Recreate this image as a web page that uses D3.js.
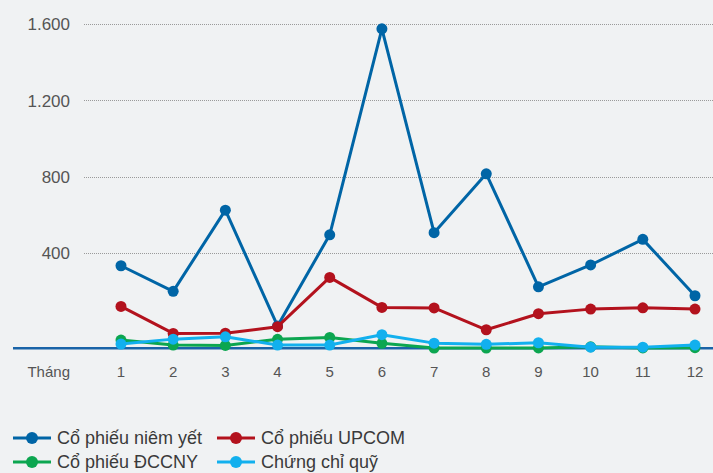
<!DOCTYPE html>
<html>
<head>
<meta charset="utf-8">
<script src="https://cdn.jsdelivr.net/npm/d3@7"></script>
<style>
  body { margin: 0; background: #f0f2f3; }
  svg { display: block; font-family: "Liberation Sans", Arial, sans-serif; }
</style>
</head>
<body>
<svg width="713" height="473"></svg>
<script>
var months = [1, 2, 3, 4, 5, 6, 7, 8, 9, 10, 11, 12];
var yTicks = [400, 800, 1200, 1600];
var seriesNames = ["Cổ phiếu niêm yết", "Cổ phiếu UPCOM", "Cổ phiếu ĐCCNY", "Chứng chỉ quỹ"];
var colors = ["#0065a6", "#b3121d", "#0ca650", "#12b0ee"];

var niemYet = [335, 201, 626, 20, 497, 1575, 508, 816, 225, 339, 473, 178];
var upcom = [122, -19, -18, 16, 274, 117, 114, 0, 84, 108, 115, 108];
var dccny = [-54, -80, -82, -50, -40, -71, -96, -96, -95, -89, -95, -94];
var quy = [-75, -49, -37, -80, -80, -26, -70, -76, -68, -91, -91, -80];
var series = [niemYet, upcom, dccny, quy];

var svg = d3.select("svg");

var x = d3.scalePoint().domain(months).range([121, 695]);
var y = d3.scaleLinear().domain([-97, 1600]).range([348.3, 24]);

// grid
svg.append("g").selectAll("line")
  .data(yTicks)
  .enter().append("line")
    .attr("x1", 84).attr("x2", 713)
    .attr("y1", function(d) { return Math.round(y(d)) + 0.5; })
    .attr("y2", function(d) { return Math.round(y(d)) + 0.5; })
    .attr("stroke", "#9a9a9a")
    .attr("stroke-width", 1)
    .attr("stroke-dasharray", "1,1");

svg.append("g").selectAll("text")
  .data(yTicks)
  .enter().append("text")
    .attr("x", 70)
    .attr("y", function(d) { return y(d); })
    .attr("dy", "0.36em")
    .attr("text-anchor", "end")
    .attr("fill", "#555")
    .style("font-size", "17px")
    .text(function(d) { return d3.format(",")(d).replace(",", "."); });

// x axis
svg.append("line")
  .attr("x1", 13).attr("x2", 713)
  .attr("y1", y(-97)).attr("y2", y(-97))
  .attr("stroke", "#1a64a8")
  .attr("stroke-width", 2.5);

var xa = svg.append("g").attr("transform", "translate(0,377)");
xa.append("text")
  .attr("x", 70).attr("text-anchor", "end")
  .attr("fill", "#555").style("font-size", "15px")
  .text("Tháng");
xa.selectAll("text.m")
  .data(months)
  .enter().append("text")
    .attr("class", "m")
    .attr("x", function(d) { return x(d); })
    .attr("text-anchor", "middle")
    .attr("fill", "#555").style("font-size", "15px")
    .text(function(d) { return d; });

// lines
var line = d3.line()
  .x(function(d, i) { return x(months[i]); })
  .y(function(d) { return y(d); });

series.forEach(function(s, k) {
  var g = svg.append("g");
  g.append("path")
    .datum(s)
    .attr("d", line)
    .attr("fill", "none")
    .attr("stroke", colors[k])
    .attr("stroke-width", 3)
    .attr("stroke-linejoin", "round");
  g.selectAll("circle")
    .data(s)
    .enter().append("circle")
      .attr("cx", function(d, i) { return x(months[i]); })
      .attr("cy", function(d) { return y(d); })
      .attr("r", 5.5)
      .attr("fill", colors[k]);
});

// legend
var legPos = [[13, 438], [217, 438], [13, 462], [217, 462]];
var leg = svg.append("g").selectAll("g")
  .data(seriesNames)
  .enter().append("g")
    .attr("transform", function(d, i) { return "translate(" + legPos[i][0] + "," + legPos[i][1] + ")"; });
leg.append("line")
  .attr("x1", 0).attr("x2", 38)
  .attr("stroke", function(d, i) { return colors[i]; })
  .attr("stroke-width", 3);
leg.append("circle")
  .attr("cx", 19).attr("r", 6)
  .attr("fill", function(d, i) { return colors[i]; });
leg.append("text")
  .attr("x", 44).attr("dy", "0.36em")
  .attr("fill", "#3a3a3a")
  .style("font-size", "18px")
  .text(function(d) { return d; });
</script>
</body>
</html>
